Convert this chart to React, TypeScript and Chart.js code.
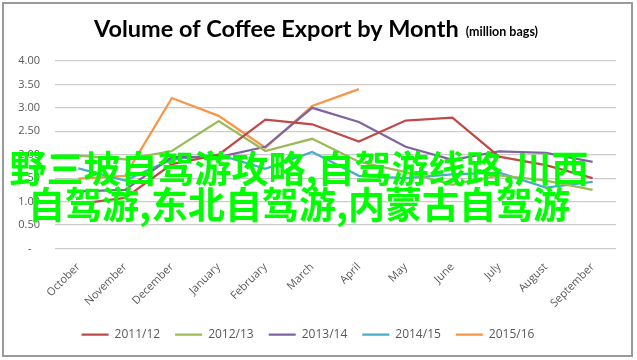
import React, { useEffect, useRef } from 'react';
import { Chart, registerables } from 'chart.js';

Chart.register(...registerables);

// ---------- data ----------
const months = [
  'October', 'November', 'December', 'January', 'February', 'March',
  'April', 'May', 'June', 'July', 'August', 'September',
];
const seriesLabels = ['2011/12', '2012/13', '2013/14', '2014/15', '2015/16'];
const season1112 = [0.95, 1.08, 1.8, 2.0, 2.75, 2.65, 2.28, 2.73, 2.79, 1.96, 1.78, 1.5];
const season1213 = [1.98, 1.9, 2.08, 2.72, 2.08, 2.34, 1.85, 1.63, 1.36, 1.56, 1.45, 1.25];
const season1314 = [1.22, 1.25, 1.95, 1.95, 2.17, 3.0, 2.7, 2.17, 1.89, 2.07, 2.04, 1.85];
const season1415 = [1.71, 1.45, 1.9, 2.0, 1.7, 2.06, 1.55, 1.5, 1.58, 1.62, 1.3, 1.42];
const season1516 = [1.49, 1.55, 3.21, 2.83, 2.15, 3.04, 3.4, null, null, null, null, null];
const seriesColors = ['#BE4B48', '#9BBB59', '#8064A2', '#4BACC6', '#F79646'];
const yMin = 0;
const yMax = 4;
const yStep = 0.5;
const titleText = 'Volume of Coffee Export by Month';
const subtitleText = '(million bags)';
const overlayLines = ['野三坡自驾游攻略,自驾游线路,川西', '自驾游,东北自驾游,内蒙古自驾游'];

const allSeries = [season1112, season1213, season1314, season1415, season1516];

const decorPlugin = {
  id: 'decor',
  beforeDraw(chart: any) {
    const { ctx, width, height } = chart;
    ctx.save();
    ctx.fillStyle = '#ffffff';
    ctx.fillRect(0, 0, width, height);
    ctx.strokeStyle = '#9a9a9a';
    ctx.lineWidth = 2;
    ctx.strokeRect(3, 3, 629, 353);
    ctx.restore();
  },
  afterDraw(chart: any) {
    const { ctx } = chart;
    ctx.save();
    const mainFont = 'bold 23.5px Lato';
    const subFont = 'bold 12.5px Lato';
    ctx.font = mainFont;
    const w1 = ctx.measureText(titleText).width;
    ctx.font = subFont;
    const w2 = ctx.measureText(subtitleText).width;
    const gap = 7;
    const total = w1 + gap + w2;
    const startX = 316 - total / 2;
    const baseY = 37;
    ctx.fillStyle = '#000000';
    ctx.textBaseline = 'alphabetic';
    ctx.textAlign = 'left';
    ctx.font = mainFont;
    ctx.fillText(titleText, startX, baseY);
    ctx.font = subFont;
    ctx.fillText(subtitleText, startX + w1 + gap, baseY - 1);
    ctx.restore();
  },
};

export default function App() {
  const canvasRef = useRef<HTMLCanvasElement | null>(null);

  useEffect(() => {
    const canvas = canvasRef.current;
    if (!canvas) return;
    const chart = new Chart(canvas, {
      type: 'line',
      data: {
        labels: months,
        datasets: allSeries.map((values, i) => ({
          label: seriesLabels[i],
          data: values,
          borderColor: seriesColors[i],
          backgroundColor: seriesColors[i],
          borderWidth: 2.25,
          pointRadius: 0,
          pointHoverRadius: 0,
          tension: 0,
          spanGaps: false,
        })),
      },
      options: {
        responsive: false,
        animation: false,
        layout: { padding: { top: 61, left: 0, right: 21, bottom: 9.5 } },
        plugins: {
          title: { display: false },
          tooltip: { enabled: false },
          legend: {
            position: 'bottom',
            labels: {
              usePointStyle: true,
              pointStyle: 'line',
              pointStyleWidth: 27,
              boxHeight: 12,
              padding: 15,
              color: '#595959',
              font: { family: 'Open Sans', size: 12 },
            },
          },
        },
        scales: {
          x: {
            type: 'category',
            offset: true,
            grid: { display: false },
            border: { display: false },
            ticks: {
              maxRotation: 45,
              minRotation: 45,
              autoSkip: false,
              padding: 4,
              color: '#595959',
              font: { family: 'Open Sans', size: 11 },
            },
            afterFit(scale: any) {
              scale.height = 65;
            },
          },
          y: {
            min: yMin,
            max: yMax,
            border: { display: false },
            grid: { color: '#cccccc', lineWidth: 1.3, drawTicks: false },
            ticks: {
              stepSize: yStep,
              padding: 15,
              color: '#595959',
              font: { family: 'Open Sans', size: 11 },
              callback: (v: any) => (Number(v) === 0 ? '-   ' : Number(v).toFixed(2)),
            },
            afterFit(scale: any) {
              scale.width = 55;
            },
          },
        },
      },
      plugins: [decorPlugin],
    });
    return () => chart.destroy();
  }, []);

  return (
    <div style={{ position: 'absolute', left: 0, top: 0, width: 637, height: 360, background: '#fff' }}>
      <canvas ref={canvasRef} width={637} height={360} style={{ display: 'block' }} />
      <div
        style={{
          position: 'absolute',
          left: 0,
          top: 149,
          width: 598,
          textAlign: 'center',
          fontFamily: '"Noto Sans CJK SC", sans-serif',
          fontWeight: 700,
          fontSize: 37,
          lineHeight: '36px',
          color: '#00ff00',
          whiteSpace: 'nowrap',
          pointerEvents: 'none',
        }}
      >
        {overlayLines.map((line, i) => (
          <div key={i}>{line}</div>
        ))}
      </div>
    </div>
  );
}
